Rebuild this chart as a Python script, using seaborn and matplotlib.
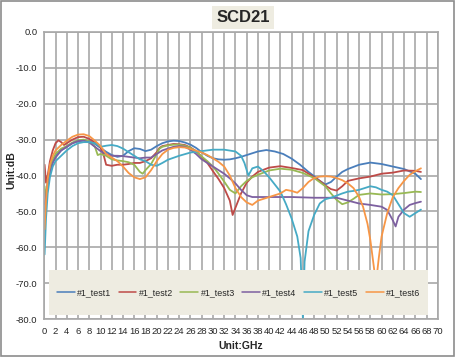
import matplotlib
matplotlib.use("Agg")
import matplotlib.pyplot as plt
from matplotlib.patches import Rectangle
import pandas as pd
import seaborn as sns

# ----------------------------------------------------------------------------------------------------------------------
# Data (frequency in GHz, SCD21 in dB)

series_names = ['#1_test1', '#1_test2', '#1_test3', '#1_test4', '#1_test5', '#1_test6']
series_colors = ['#4A7EBB', '#BE4B48', '#98B954', '#7D60A0', '#46AAC5', '#F79646']

f_test1 = [0.05, 0.3, 0.6, 1, 1.5, 2, 3, 4, 5, 6, 7, 8, 9, 10, 11, 12, 13, 14, 15, 16, 17, 18, 19, 20, 21, 22, 23,
           24, 25, 26, 27, 28, 29, 30, 31, 32, 33, 34, 35, 36, 37, 38, 39.5, 41, 42.5, 44, 45.5, 47, 48, 49, 50, 51,
           52, 53, 54, 56, 58, 60, 62, 64, 66, 67]
db_test1 = [-50, -47, -43, -39, -36, -34.5, -33, -32, -31, -30.5, -30.2, -30.4, -31.2, -32.3, -33.4, -34.3, -34.8,
            -34.5, -33.2, -32.4, -32.6, -33.2, -32.8, -31.8, -31, -30.5, -30.3, -30.4, -30.8, -31.4, -32.3, -33.5,
            -34.5, -35.2, -35.5, -35.6, -35.5, -35.2, -34.8, -34.3, -33.8, -33.3, -32.9, -33.3, -34, -35.3, -37, -39,
            -40.2, -41.5, -42.5, -41.8, -40.3, -39, -38.2, -37, -36.4, -36.8, -37.5, -38.2, -39.5, -41]

f_test2 = [0.05, 0.3, 0.6, 1, 1.5, 2, 2.5, 3, 3.5, 4, 5, 6, 7, 8, 9, 10, 10.5, 11, 12, 13, 14, 15, 16, 17, 18, 19,
           20, 20.5, 21, 22, 23, 24, 25, 26, 27, 28, 29, 30, 31, 32, 33, 33.5, 34, 35, 36, 37, 38, 40, 42, 44, 46,
           47, 48, 49, 50, 51, 52, 53, 54, 56, 58, 60, 62, 64, 66, 67]
db_test2 = [-37, -42, -40, -36, -33, -31, -30.2, -30.7, -31.5, -31, -30, -29.3, -29.2, -29.8, -30.8, -32.2, -34, -37,
            -37.3, -37, -37, -36.8, -36.5, -36.5, -36, -35.2, -33.5, -32.3, -31.8, -31.5, -31.2, -31.3, -31.5, -32.2,
            -33.2, -34.8, -36.5, -38.8, -41, -43.5, -47, -51, -49, -45, -42, -40.3, -39, -37.8, -37.4, -37.9, -38.5,
            -39.5, -40.5, -41.5, -42.8, -43.8, -44.2, -43, -41.5, -40.8, -40.3, -39.5, -39.2, -38.6, -38.7, -39]

f_test3 = [0.05, 0.3, 0.6, 1, 1.5, 2, 3, 4, 5, 6, 7, 8, 9, 9.5, 10, 11, 12, 13, 14, 15, 16, 17, 17.5, 18, 19, 20,
           20.5, 21, 22, 23, 24, 25, 26, 27, 28, 29, 30, 31, 32, 33, 34, 35, 36, 37, 38, 40, 42, 44, 46, 48, 50, 51,
           52, 53, 54, 55, 56, 58, 60, 62, 64, 66, 67]
db_test3 = [-43, -46, -42, -38, -35.5, -34, -32.5, -31.8, -30.8, -30.2, -30, -30.5, -32, -34.3, -34, -34.5, -35.5,
            -35.8, -36, -36.3, -37, -39, -39.5, -38.5, -36.8, -34, -32.5, -32, -31.6, -31.4, -31.4, -31.7, -32.3,
            -33.3, -34.7, -36, -37.5, -39.5, -41.7, -44, -45, -43, -41.5, -40.5, -39.8, -38.6, -38.1, -38.4, -39.3,
            -40.7, -43, -45, -46.8, -48, -47.5, -46.5, -45.4, -45, -45.3, -45.2, -44.9, -44.5, -44.6]

f_test4 = [0.05, 0.3, 0.6, 1, 1.5, 2, 3, 4, 5, 6, 7, 8, 9, 10, 11, 12, 13, 14, 15, 16, 17, 18, 19, 20, 21, 22, 23,
           24, 25, 26, 27, 28, 29, 30, 31, 32, 33, 34, 35, 36, 37, 40, 44, 48, 52, 54, 56, 58, 60, 61, 62, 62.5, 63,
           64, 65, 66, 67]
db_test4 = [-48, -46, -42, -39.5, -36.5, -35, -33, -32, -31, -30.4, -30.3, -30.8, -32, -33.2, -34, -34.5, -34.5,
            -34.6, -34.8, -35, -35.2, -35, -35, -34, -33, -32.5, -32, -31.8, -32, -32.8, -34, -35.5, -36.5, -37.5,
            -38.5, -39.5, -40.8, -42.2, -44, -45.5, -46, -46, -46, -46.2, -46.2, -47, -47.8, -48.2, -48.7, -49.6,
            -52.5, -54.2, -51.5, -49.5, -48.2, -47.7, -47.3]

f_test5 = [0.05, 0.3, 0.6, 1, 1.5, 2, 3, 4, 5, 6, 7, 8, 9, 10, 11, 12, 13, 14, 15, 16, 17, 18, 19, 20, 21, 22, 24,
           26, 28, 30, 32, 34, 35, 35.6, 36.3, 37, 38, 39, 40, 41, 42, 43, 44, 45, 45.6, 46, 46.3, 47, 48, 49, 50,
           51, 52, 53, 54, 55, 56, 57, 58, 59, 60, 61, 62, 63, 64, 65, 66, 67]
db_test5 = [-62, -52, -45, -40.5, -37.5, -36, -34.5, -33, -31.8, -31, -30.7, -30.7, -31, -32, -31.7, -31.5, -31.8,
            -32.5, -33.5, -34.5, -35.5, -36, -37, -37.3, -36.5, -35.6, -34.5, -33.6, -33.2, -32.8, -32.8, -33.3,
            -34.5, -36.5, -40, -38, -37.5, -38.8, -40.5, -42.5, -44.5, -48, -52, -57, -63, -80, -64, -55.5, -51,
            -47.8, -46.6, -46.2, -45.6, -45, -44.5, -44.3, -44, -43.5, -43, -43.3, -44, -44.5, -45.5, -48, -50.5,
            -51.5, -50.5, -49.5]

f_test6 = [0.05, 0.3, 0.6, 1, 1.5, 2, 3, 4, 5, 6, 7, 8, 9, 10, 11, 12, 13, 14, 15, 16, 17, 18, 19, 20, 21, 22, 23,
           24, 25, 26, 27, 28, 29, 30, 31, 32, 33, 34, 35, 36, 37, 38, 39, 40, 41, 42, 43, 44, 45, 46, 47, 48, 49,
           50, 51, 52, 53, 54, 55, 56, 56.7, 57.5, 58, 58.5, 59, 59.5, 60, 61, 62, 63, 64, 65, 66, 67]
db_test6 = [-55, -47, -41, -37, -34.5, -33, -31.5, -30.3, -29.2, -28.6, -28.5, -29, -30.3, -31.8, -34, -35, -36,
            -37.5, -39.3, -40.5, -41, -40.5, -38.5, -36, -34, -32.8, -32.3, -32.1, -32.2, -32.6, -33.1, -33.6, -34.3,
            -35.2, -36.2, -37.5, -40, -43.5, -46, -47.5, -48.2, -47, -46.5, -46, -45.5, -45, -44, -44.3, -44.8,
            -43.5, -41.8, -40.7, -40.3, -40.2, -40.3, -40.7, -41.3, -42.2, -43.5, -46, -48.7, -53.5, -58, -64, -70,
            -63, -57, -50.5, -46, -43.5, -41.5, -39.8, -38.8, -38]

x_ticks = list(range(0, 71, 2))
y_ticks = [-80, -70, -60, -50, -40, -30, -20, -10, 0]

# ----------------------------------------------------------------------------------------------------------------------
# Long-form table for seaborn

frames = []
for name, f, db in zip(series_names,
                       [f_test1, f_test2, f_test3, f_test4, f_test5, f_test6],
                       [db_test1, db_test2, db_test3, db_test4, db_test5, db_test6]):
    frames.append(pd.DataFrame({'freq': f, 'db': db, 'series': name}))
df = pd.concat(frames, ignore_index=True)

# ----------------------------------------------------------------------------------------------------------------------
# Plot

sns.set_theme(style='white')
plt.rcParams['font.family'] = ['Liberation Sans', 'DejaVu Sans']

grid_color = '#A8A8A8'

fig = plt.figure(figsize=(4.55, 3.57), dpi=100)
ax = fig.add_axes([0.0974, 0.1064, 0.8648, 0.804])

sns.lineplot(data=df, x='freq', y='db', hue='series', hue_order=series_names, palette=series_colors,
             estimator=None, sort=False, linewidth=1.3, ax=ax)

ax.set_xlim(0, 70)
ax.set_ylim(-80, 0)
ax.set_xticks(x_ticks)
ax.set_xticklabels([str(t) for t in x_ticks], fontsize=6.8)
ax.set_yticks(y_ticks)
ax.set_yticklabels([f'{t:.1f}' for t in y_ticks], fontsize=6.8)
ax.tick_params(axis='both', length=3, width=1, color=grid_color, pad=2)
ax.tick_params(axis='x', pad=3)
ax.grid(True, color=grid_color, linewidth=1.2)
ax.set_axisbelow(True)
for spine in ax.spines.values():
    spine.set_color(grid_color)
    spine.set_linewidth(1.2)

ax.set_xlabel('Unit:GHz', fontsize=7.5, fontweight='bold')
ax.set_ylabel('Unit:dB', fontsize=7.5, fontweight='bold')
ax.xaxis.set_label_coords(0.5, -0.075)
ax.yaxis.set_label_coords(-0.072, 0.52)

# legend sits on a beige panel inside the plot area
ax.add_patch(Rectangle((0.012, 0.014), 0.963, 0.157, transform=ax.transAxes,
                       facecolor='#EEECE1', edgecolor='none', zorder=4))
handles, labels = ax.get_legend_handles_labels()
for h in handles:
    h.set_linewidth(1.1)
ax.legend(handles, labels, ncol=6, loc='center', bbox_to_anchor=(0.4935, 0.0925), frameon=False,
          fontsize=6.4, handlelength=2.0, handletextpad=0.25, columnspacing=0.85)

fig.text(0.534, 0.951, 'SCD21', ha='center', va='center', fontsize=12, fontweight='bold',
         bbox=dict(facecolor='#EEECE1', edgecolor='none', pad=2.8))

# outer chart border
fig.patches.append(Rectangle((0.002, 0.003), 0.996, 0.994, transform=fig.transFigure, fill=False,
                             edgecolor='#8C8C8C', linewidth=1.2))

fig.savefig('out.png', dpi=100)
